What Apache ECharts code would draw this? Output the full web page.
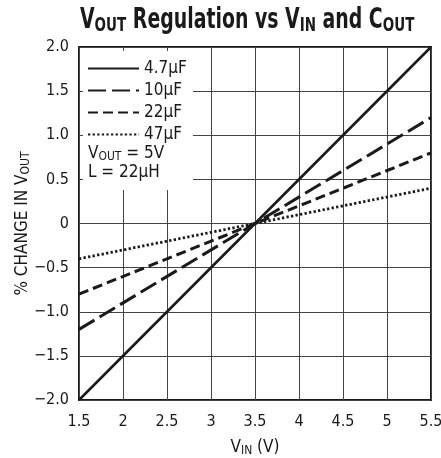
<!DOCTYPE html>
<html>
<head>
<meta charset="utf-8">
<script src="https://cdn.jsdelivr.net/npm/echarts@6/dist/echarts.min.js"></script>
<style>html,body{margin:0;padding:0;background:#fff;}#c{width:441px;height:458px;}</style>
</head>
<body>
<div id="c"></div>
<script>
var vinPoints = [1.5, 3.5, 5.5];
var c4_7 = [-2.0, 0, 2.0];
var c10 = [-1.2, 0, 1.2];
var c22 = [-0.8, 0, 0.8];
var c47 = [-0.4, 0, 0.4];
var seriesNames = ['4.7µF', '10µF', '22µF', '47µF'];
var xTicks = [1.5, 2, 2.5, 3, 3.5, 4, 4.5, 5, 5.5];
var yTicks = [-2.0, -1.5, -1.0, -0.5, 0, 0.5, 1.0, 1.5, 2.0];

var FONT = "'Liberation Sans Narrow','DejaVu Sans Condensed',sans-serif";
var INK = '#1a1a1a';

function pairs(ys) { return vinPoints.map(function (x, i) { return [x, ys[i]]; }); }
function yFmt(v) {
  if (Math.abs(v) < 1e-9) return '0';
  return v.toFixed(1).replace('-', '\u2212');
}

var chart = echarts.init(document.getElementById('c'), null, {renderer: 'canvas'});
var styles = [
  {type: 'solid', width: 2.6},
  {type: [18, 6], width: 3},
  {type: [10, 5], width: 3},
  {type: [2.3, 2.3], width: 2.8}
];
var dataSets = [c4_7, c10, c22, c47];

var option = {
  animation: false,
  grid: {
    left: 79, top: 47, width: 352, height: 353,
    outerBoundsMode: 'none', containLabel: false,
    show: true, borderColor: INK, borderWidth: 2, backgroundColor: 'transparent'
  },
  legend: {
    orient: 'vertical',
    left: 87, top: 60, padding: 0,
    itemWidth: 51, itemHeight: 14, itemGap: 5,
    itemStyle: {color: 'transparent', borderColor: 'transparent', borderWidth: 0, opacity: 0},
    textStyle: {fontFamily: FONT, fontSize: 17, lineHeight: 14, color: INK},
    data: seriesNames
  },
  xAxis: {
    type: 'value', min: 1.5, max: 5.5, interval: 0.5,
    name: '{n|V}{ns|IN}{n| (V)}',
    nameLocation: 'middle', nameGap: 38,
    nameTextStyle: {
      rich: {
        n: {fontFamily: FONT, fontSize: 17, color: INK},
        ns: {fontFamily: FONT, fontSize: 12, color: INK, padding: [7, 0, 0, 0]}
      }
    },
    axisLine: {show: false},
    axisTick: {show: false},
    axisLabel: {fontFamily: FONT, fontSize: 16, color: INK, margin: 14,
      formatter: function (v) { return String(v); }},
    splitLine: {show: true, lineStyle: {color: '#444', width: 1}}
  },
  yAxis: {
    type: 'value', min: -2, max: 2, interval: 0.5,
    name: '{n|% CHANGE IN V}{ns|OUT}',
    nameLocation: 'middle', nameGap: 47, nameRotate: 90,
    nameMoveOverlap: false,
    nameTextStyle: {
      rich: {
        n: {fontFamily: FONT, fontSize: 17, color: INK},
        ns: {fontFamily: FONT, fontSize: 12, color: INK, padding: [7, 0, 0, 0]}
      }
    },
    axisLine: {show: false},
    axisTick: {show: false},
    axisLabel: {fontFamily: FONT, fontSize: 16, color: INK, margin: 10, formatter: yFmt},
    splitLine: {show: true, lineStyle: {color: '#444', width: 1}}
  },
  graphic: [
    {type: 'text', x: 80, y: 6, scaleX: 0.75, z: 60,
      style: {text: '{b|V}{bs|OUT}{b| Regulation vs V}{bs|IN}{b| and C}{bs|OUT}', rich: {
        b: {fontFamily: FONT, fontWeight: 'bold', fontSize: 28, fill: INK},
        bs: {fontFamily: FONT, fontWeight: 'bold', fontSize: 20, fill: INK, padding: [10, 0, 0, 0]}
      }}},
    {type: 'rect', left: 83, top: 51, shape: {width: 110, height: 139}, style: {fill: '#fff'}, z: 3},
    {type: 'text', left: 88, top: 145, z: 60,
      style: {text: '{n|V}{ns|OUT}{n| = 5V}', rich: {
        n: {fontFamily: FONT, fontSize: 17, fill: INK},
        ns: {fontFamily: FONT, fontSize: 12, fill: INK, padding: [7, 0, 0, 0]}
      }}},
    {type: 'text', left: 88, top: 164, z: 60,
      style: {text: 'L = 22µH', fontFamily: FONT, fontSize: 17, fill: INK}}
  ],
  series: seriesNames.map(function (n, i) {
    return {
      name: n, type: 'line', data: pairs(dataSets[i]), symbol: 'none', silent: true,
      z: 10,
      lineStyle: {color: INK, width: styles[i].width, type: styles[i].type, cap: 'butt'},
      itemStyle: {color: INK}
    };
  })
};
chart.setOption(option);
</script>
</body>
</html>
